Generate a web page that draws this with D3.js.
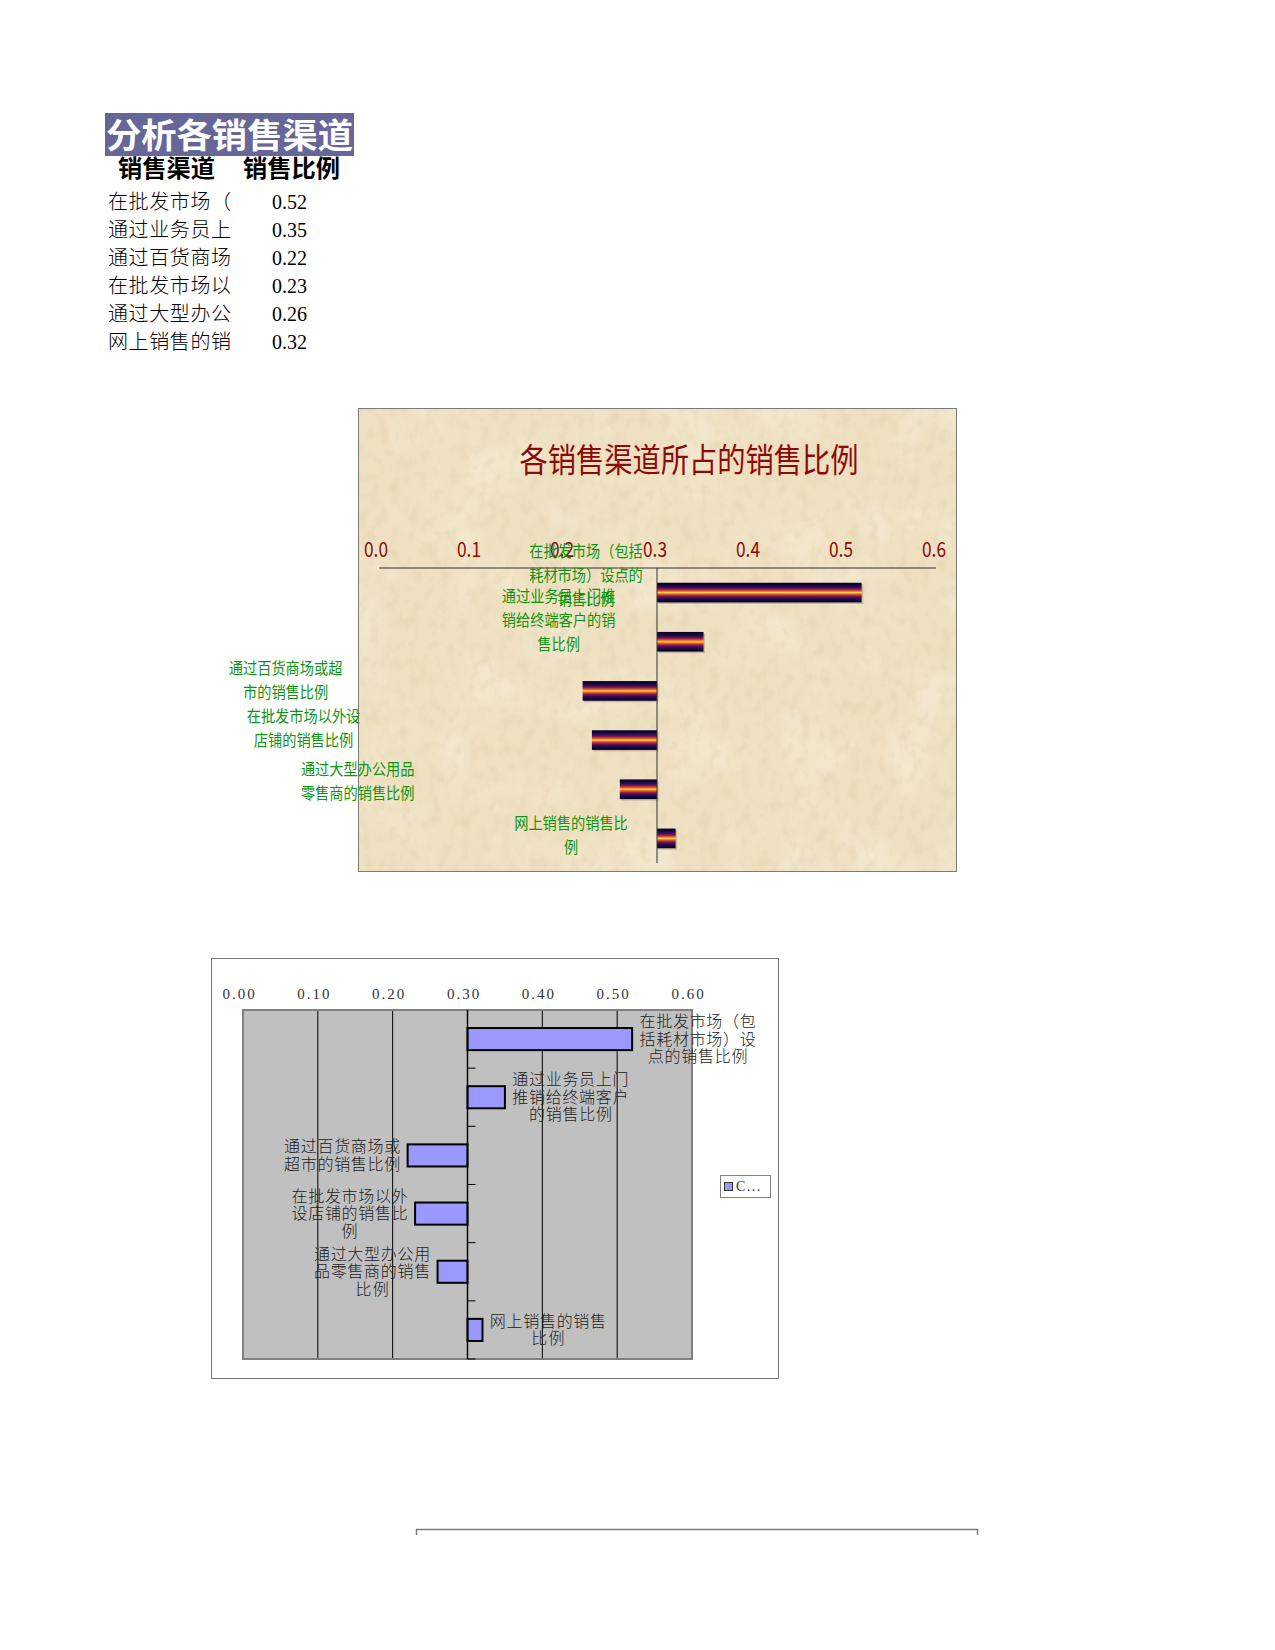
<!DOCTYPE html>
<html><head><meta charset="utf-8">
<script src="https://cdn.jsdelivr.net/npm/d3@7"></script>
<style>body{margin:0;background:#fff}svg{display:block}</style>
</head><body>
<script>
// ---------- data ----------
const tableTitle = "分析各销售渠道";
const tableHeaders = ["销售渠道", "销售比例"];
const categories = [
  "在批发市场（包括耗材市场）设点的销售比例",
  "通过业务员上门推销给终端客户的销售比例",
  "通过百货商场或超市的销售比例",
  "在批发市场以外设店铺的销售比例",
  "通过大型办公用品零售商的销售比例",
  "网上销售的销售比例"
];
const values = [0.52, 0.35, 0.22, 0.23, 0.26, 0.32];
const chart1Title = "各销售渠道所占的销售比例";
const chart1Ticks = [0, 0.1, 0.2, 0.3, 0.4, 0.5, 0.6];
const chart2Ticks = [0, 0.1, 0.2, 0.3, 0.4, 0.5, 0.6];
const legendLabel = "C...";
const baseValue = 0.3;

// ---------- layout ----------
const c1LabelCx = [586, 558.6, 285.6, 303.5, 357.7, 571];
const c1LabelDy = [-17, -21, -10, -12, -8, -3];

const W = 1275, H = 1650;
const svg = d3.select("body").append("svg").attr("width", W).attr("height", H);
const defs = svg.append("defs");
const CJK = "'Noto Sans CJK SC','Noto Sans',sans-serif";

function wrap(s, n) { const out = []; for (let i = 0; i < s.length; i += n) out.push(s.slice(i, i + n)); return out; }

// ---------- table ----------
const tg = svg.append("g");
tg.append("rect").attr("x", 105).attr("y", 113).attr("width", 249).attr("height", 43).attr("fill", "#666699");
tg.append("text").attr("x", 106).attr("y", 148).attr("fill", "#fff").attr("font-family", CJK)
  .attr("font-weight", "bold").attr("font-size", 34).attr("textLength", 247).attr("lengthAdjust", "spacingAndGlyphs").text(tableTitle);
tg.selectAll("text.hdr").data(tableHeaders).join("text").attr("class", "hdr")
  .attr("x", (d, i) => i === 0 ? 118 : 243).attr("y", 177).attr("font-family", CJK).attr("font-weight", "bold")
  .attr("font-size", 24).attr("fill", "#000").attr("textLength", 97).attr("lengthAdjust", "spacingAndGlyphs").text(d => d);
const rowY = i => 209 + i * 28;
tg.selectAll("text.cat").data(categories).join("text").attr("class", "cat")
  .attr("x", 108).attr("y", (d, i) => rowY(i)).attr("font-family", CJK).attr("font-weight", 300)
  .attr("font-size", 20).attr("fill", "#000").attr("letter-spacing", 0.6).text(d => d.slice(0, 6));
tg.selectAll("text.val").data(values).join("text").attr("class", "val")
  .attr("x", 272).attr("y", (d, i) => rowY(i)).attr("font-family", "'Liberation Serif',serif")
  .attr("font-size", 20).attr("fill", "#000").text(d => d.toFixed(2));

// ---------- chart 1 ----------
const c1 = { x: 358, y: 408, w: 599, h: 464 };
const tex = defs.append("filter").attr("id", "tex").attr("x", 0).attr("y", 0).attr("width", 1).attr("height", 1);
tex.append("feTurbulence").attr("type", "fractalNoise").attr("baseFrequency", "0.018").attr("numOctaves", 3).attr("seed", 3).attr("result", "n");
tex.append("feColorMatrix").attr("in", "n").attr("type", "matrix")
  .attr("values", "0 0 0 0 1  0 0 0 0 0.98  0 0 0 0 0.92  1.4 0 0 0 -0.6").attr("result", "w");
tex.append("feComposite").attr("in", "w").attr("in2", "SourceGraphic").attr("operator", "in");
const tex2 = defs.append("filter").attr("id", "tex2").attr("x", 0).attr("y", 0).attr("width", 1).attr("height", 1);
tex2.append("feTurbulence").attr("type", "fractalNoise").attr("baseFrequency", "0.1 0.07").attr("numOctaves", 3).attr("seed", 9).attr("result", "n");
tex2.append("feColorMatrix").attr("in", "n").attr("type", "matrix")
  .attr("values", "0 0 0 0 0.78  0 0 0 0 0.66  0 0 0 0 0.45  0 2.2 0 0 -1.02").attr("result", "d");
tex2.append("feComposite").attr("in", "d").attr("in2", "SourceGraphic").attr("operator", "in");

const g1 = svg.append("g");
g1.append("rect").attr("x", c1.x).attr("y", c1.y).attr("width", c1.w).attr("height", c1.h).attr("fill", "#eee0c0");
g1.append("rect").attr("x", c1.x).attr("y", c1.y).attr("width", c1.w).attr("height", c1.h).attr("fill", "#fff").attr("filter", "url(#tex)").attr("opacity", 0.5);
g1.append("rect").attr("x", c1.x).attr("y", c1.y).attr("width", c1.w).attr("height", c1.h).attr("fill", "#fff").attr("filter", "url(#tex2)").attr("opacity", 0.7);
g1.append("rect").attr("x", c1.x + 0.5).attr("y", c1.y + 0.5).attr("width", c1.w - 1).attr("height", c1.h - 1).attr("fill", "none").attr("stroke", "#7a7a7a");

g1.append("text").attr("x", 689).attr("y", 472).attr("text-anchor", "middle").attr("font-family", CJK)
  .attr("font-size", 33).attr("fill", "#8b0a0a").attr("textLength", 339).attr("lengthAdjust", "spacingAndGlyphs").text(chart1Title);

const x1 = d3.scaleLinear().domain([0, 0.6]).range([378, 936]);
const y1 = d3.scaleBand().domain(d3.range(categories.length)).range([568, 863]).paddingInner(0.6).paddingOuter(0.3);

const grad = defs.append("linearGradient").attr("id", "fire").attr("x1", 0).attr("y1", 0).attr("x2", 0).attr("y2", 1);
[[0, "#04002c"], [0.12, "#130838"], [0.22, "#340c52"], [0.3, "#6c165a"], [0.36, "#b02a48"], [0.42, "#e85a28"], [0.46, "#fa9a20"], [0.5, "#ffdc48"],
 [0.54, "#fa9a20"], [0.58, "#e85a28"], [0.64, "#b02a48"], [0.7, "#6c165a"], [0.78, "#340c52"], [0.88, "#130838"], [1, "#04002c"]]
  .forEach(([o, c]) => grad.append("stop").attr("offset", o).attr("stop-color", c));

// subtle shadow
g1.selectAll("rect.shadow").data(values).join("rect").attr("class", "shadow")
  .attr("x", d => x1(Math.min(d, baseValue)) + 1.5).attr("width", d => Math.abs(x1(d) - x1(baseValue)))
  .attr("y", (d, i) => y1(i) + 1.5).attr("height", y1.bandwidth()).attr("fill", "#7d6d50").attr("opacity", 0.35);
g1.selectAll("rect.bar").data(values).join("rect").attr("class", "bar")
  .attr("x", d => x1(Math.min(d, baseValue))).attr("width", d => Math.abs(x1(d) - x1(baseValue)))
  .attr("y", (d, i) => y1(i)).attr("height", y1.bandwidth()).attr("fill", "url(#fire)");

const ax1 = g1.append("g").attr("transform", "translate(0,568)")
  .call(d3.axisTop(x1).tickValues(chart1Ticks).tickFormat(d3.format(".1f")).tickSize(0).tickPadding(11));
ax1.select(".domain").attr("stroke", "#333").attr("d", `M${x1(0) + 1},0H${x1(0.6)}`);
ax1.selectAll(".tick").attr("transform", d => `translate(${x1(d) - 2},0)`);
ax1.selectAll("text").attr("font-family", CJK).attr("font-size", 21).attr("fill", "#8b0a0a")
  .attr("textLength", 24).attr("lengthAdjust", "spacingAndGlyphs");
g1.append("line").attr("x1", x1(baseValue)).attr("x2", x1(baseValue)).attr("y1", 568).attr("y2", 863).attr("stroke", "#333");

categories.forEach((c, i) => {
  const lines = wrap(c, 8);
  const lh = 24;
  const cy = y1(i) + y1.bandwidth() / 2 + c1LabelDy[i];
  const t = g1.append("text").attr("font-family", CJK).attr("font-size", 16).attr("fill", "#119411").attr("text-anchor", "middle");
  lines.forEach((l, k) => {
    t.append("tspan").attr("x", c1LabelCx[i]).attr("y", cy + (k - (lines.length - 1) / 2) * lh + 5.5)
      .attr("textLength", l.length * 14.2).attr("lengthAdjust", "spacingAndGlyphs").text(l);
  });
});

// ---------- chart 2 ----------
const g2 = svg.append("g");
g2.append("rect").attr("x", 211.5).attr("y", 958.5).attr("width", 567).attr("height", 420).attr("fill", "#fff").attr("stroke", "#777");
const x2 = d3.scaleLinear().domain([0, 0.6]).range([243, 692]);
const y2 = d3.scaleBand().domain(d3.range(categories.length)).range([1010, 1359]).paddingInner(0.62).paddingOuter(0.31);
g2.append("rect").attr("x", 243).attr("y", 1010).attr("width", 449).attr("height", 349).attr("fill", "#c0c0c0");
g2.selectAll("line.grid").data(chart2Ticks.filter(t => t > 0 && t < 0.6 && t !== baseValue)).join("line").attr("class", "grid")
  .attr("x1", d => x2(d)).attr("x2", d => x2(d)).attr("y1", 1010).attr("y2", 1359).attr("stroke", "#000").attr("stroke-width", 1);
g2.append("rect").attr("x", 243).attr("y", 1010).attr("width", 449).attr("height", 349).attr("fill", "none").attr("stroke", "#808080").attr("stroke-width", 2);

const ax2 = g2.append("g").attr("transform", "translate(-4,1010)")
  .call(d3.axisTop(x2).tickValues(chart2Ticks).tickFormat(d3.format(".2f")).tickSize(0).tickPadding(11));
ax2.select(".domain").remove();
ax2.selectAll("text").attr("font-family", "'Liberation Serif',serif").attr("font-size", 15).attr("letter-spacing", 2).attr("fill", "#333");

g2.selectAll("rect.bar").data(values).join("rect").attr("class", "bar")
  .attr("x", d => x2(Math.min(d, baseValue))).attr("width", d => Math.abs(x2(d) - x2(baseValue)))
  .attr("y", (d, i) => y2(i)).attr("height", y2.bandwidth()).attr("fill", "#9999ff").attr("stroke", "#000").attr("stroke-width", 2);

g2.append("line").attr("x1", x2(baseValue)).attr("x2", x2(baseValue)).attr("y1", 1010).attr("y2", 1359).attr("stroke", "#000").attr("stroke-width", 1.5);
const step2 = 349 / categories.length;
g2.selectAll("line.tk").data(d3.range(1, categories.length + 1)).join("line").attr("class", "tk")
  .attr("x1", x2(baseValue)).attr("x2", x2(baseValue) + 8).attr("y1", d => 1010 + d * step2).attr("y2", d => 1010 + d * step2)
  .attr("stroke", "#000");

categories.forEach((c, i) => {
  const lines = wrap(c, 7);
  const lh = 17.5;
  const right = values[i] >= baseValue;
  const blockW = 7 * 17;
  const cx = right ? x2(values[i]) + 6 + blockW / 2 : x2(values[i]) - 6 - blockW / 2;
  const cy = y2(i) + y2.bandwidth() / 2;
  const t = g2.append("text").attr("font-family", CJK).attr("font-weight", 300).attr("font-size", 16).attr("fill", "#222").attr("text-anchor", "middle");
  lines.forEach((l, k) => {
    t.append("tspan").attr("x", cx).attr("y", cy + (k - (lines.length - 1) / 2) * lh + 5.5)
      .attr("textLength", l.length * 16.6).attr("lengthAdjust", "spacing").text(l);
  });
});

// legend
g2.append("rect").attr("x", 720.5).attr("y", 1175.5).attr("width", 50).attr("height", 22).attr("fill", "#fff").attr("stroke", "#808080");
g2.append("rect").attr("x", 724.5).attr("y", 1182.5).attr("width", 8).attr("height", 8).attr("fill", "#9999ff").attr("stroke", "#333");
g2.append("text").attr("x", 736).attr("y", 1191).attr("font-family", "'Liberation Serif',serif").attr("font-size", 14).attr("letter-spacing", 1.5).attr("fill", "#333").text(legendLabel);

// bottom frame fragment
svg.append("path").attr("d", "M416.5,1535V1529.5H977.5V1535").attr("fill", "none").attr("stroke", "#7a7a7a").attr("stroke-width", 1.5);
</script>
</body></html>
